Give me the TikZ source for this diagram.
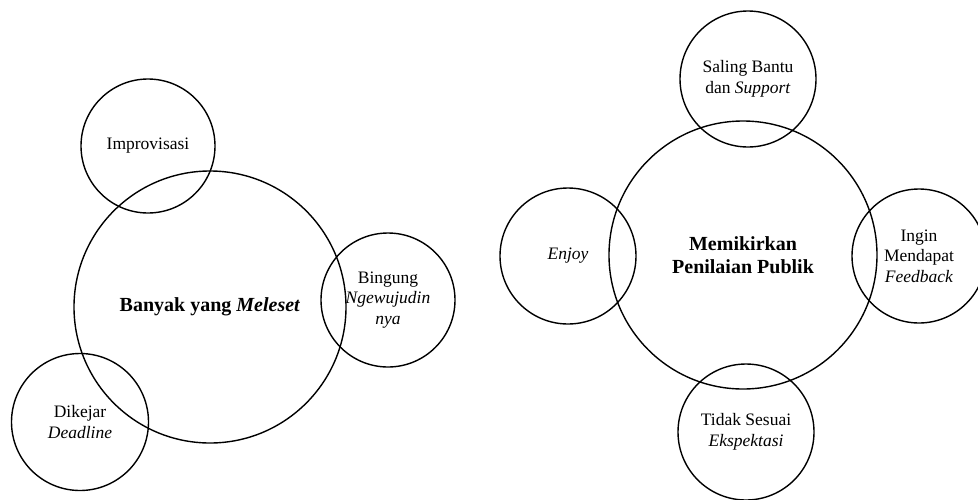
\documentclass[tikz,border=0pt]{standalone}
\usepackage{fontspec}
\setmainfont{Liberation Serif}[ItalicFont={Liberation Serif Italic},BoldFont={Liberation Serif Bold},BoldItalicFont={Liberation Serif Bold Italic}]
\begin{document}
\begin{tikzpicture}[x=1pt,y=-1pt,
  bub/.style={draw=black,line width=1.4pt,circle,inner sep=0pt,align=center,
    font=\fontsize{17.5}{20.5}\selectfont},
  core/.style={bub,font=\fontsize{20}{22.5}\selectfont\bfseries}]
\useasboundingbox (0,0) rectangle (978,499);
% left group
\node[core,minimum size=272pt] (banyak) at (210,307) {Banyak yang \textit{Meleset}};
\node[bub,minimum size=134pt] (improv) at (148,146) {Improvisasi};
\node[bub,minimum size=134pt] (bingung) at (388,300) {Bingung\\\textit{Ngewujudin}\\\textit{nya}};
\node[bub,minimum size=137pt] (dikejar) at (80,422) {Dikejar\\\textit{Deadline}};
% right group
\node[core,minimum size=268pt] (memikir) at (743,255) {Memikirkan\\Penilaian Publik};
\node[bub,minimum size=136pt] (saling) at (748,79) {Saling Bantu\\dan \textit{Support}};
\node[bub,minimum size=136pt] (enjoy) at (568,256) {\textit{Enjoy}};
\node[bub,minimum size=134pt] (ingin) at (919,256) {Ingin\\Mendapat\\\textit{Feedback}};
\node[bub,minimum size=136pt] (tidak) at (746,432) {Tidak Sesuai\\\textit{Ekspektasi}};
\end{tikzpicture}
\end{document}
